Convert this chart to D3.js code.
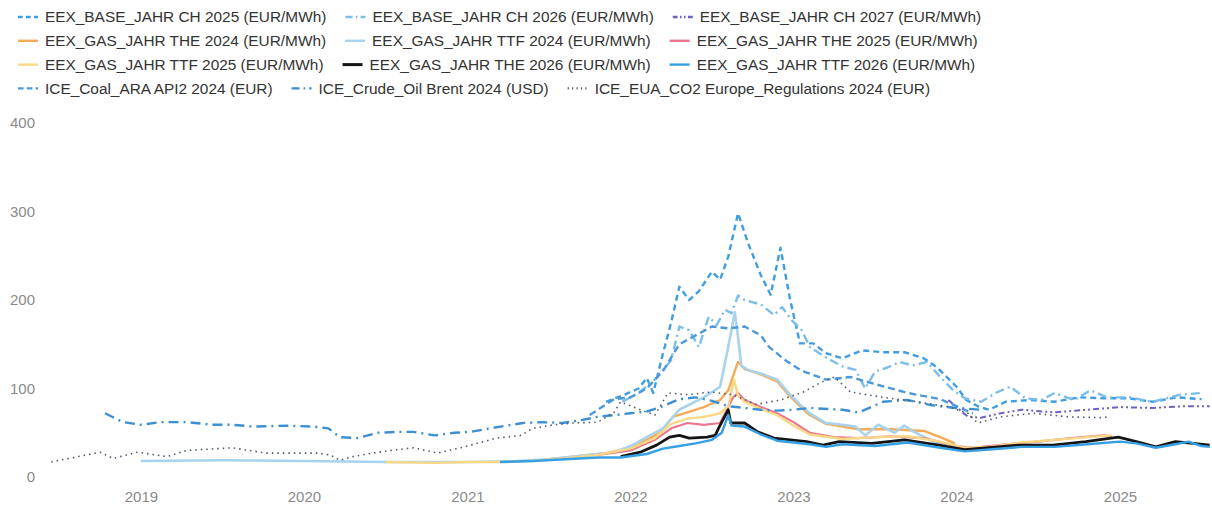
<!DOCTYPE html>
<html lang="en">
<head>
  <meta charset="UTF-8">
  <title>Energy futures</title>
  <script src="https://cdnjs.cloudflare.com/ajax/libs/d3/7.8.5/d3.min.js"></script>
  <style>
    body { margin: 0; background: #fff; }
    svg text { font-family: "Liberation Sans", Arial, sans-serif; }
    .tick text { fill: #8a8a8a; font-size: 15px; }
    .legend text { fill: #333; font-size: 15.4px; }
  </style>
</head>
<body>
  <div id="chart"></div>

  <script>
    // values: [decimal year, value]
    const ch2025 = [[2021.85,85],[2021.95,92],[2022.05,100],[2022.1,112],[2022.14,95],[2022.2,140],[2022.25,175],[2022.3,215],
      [2022.36,200],[2022.42,210],[2022.5,232],[2022.55,223],[2022.6,249],[2022.66,298],[2022.72,265],[2022.8,228],[2022.86,206],
      [2022.92,259],[2022.98,200],[2023.04,151],[2023.12,151],[2023.2,140],[2023.3,134],[2023.42,143],[2023.55,141],[2023.68,141],
      [2023.8,134],[2023.88,124],[2023.94,113],[2024.0,102],[2024.06,87],[2024.14,79],[2024.2,76],[2024.3,85],[2024.45,87],
      [2024.6,85],[2024.75,90],[2024.9,89],[2025.05,89],[2025.2,85],[2025.35,90],[2025.5,88]];
    const ch2026 = [[2021.95,85],[2022.05,95],[2022.15,110],[2022.25,132],[2022.3,170],[2022.36,166],[2022.42,147],[2022.48,181],
      [2022.53,172],[2022.58,189],[2022.62,185],[2022.66,205],[2022.7,200],[2022.8,195],[2022.88,183],[2022.93,192],[2022.99,177],
      [2023.05,166],[2023.1,147],[2023.2,135],[2023.3,125],[2023.38,121],[2023.44,100],[2023.5,119],[2023.58,124],[2023.65,130],
      [2023.73,126],[2023.82,130],[2023.9,113],[2023.98,98],[2024.05,89],[2024.15,85],[2024.25,96],[2024.33,102],[2024.42,89],
      [2024.52,87],[2024.6,95],[2024.72,87],[2024.82,98],[2024.92,90],[2025.06,90],[2025.2,85],[2025.37,93],[2025.5,95]];
    const ch2027 = [[2023.95,87],[2024.07,68],[2024.15,67],[2024.27,72],[2024.4,76],[2024.6,73],[2024.8,76],[2025.0,79],
      [2025.2,78],[2025.4,80],[2025.55,80]];
    const the2024 = [[2021.5,20],[2021.7,24],[2021.85,27],[2022.0,33],[2022.1,42],[2022.18,50],[2022.26,68],[2022.35,73],
      [2022.45,79],[2022.55,87],[2022.6,98],[2022.635,117],[2022.66,130],[2022.7,122],[2022.8,116],[2022.9,108],[2022.97,93],
      [2023.05,78],[2023.1,70],[2023.2,60],[2023.4,54],[2023.6,54],[2023.8,52],[2023.9,45],[2023.99,38]];
    const ttf2024 = [[2019.0,18],[2019.5,19],[2020.0,18],[2020.5,17],[2021.0,17],[2021.3,18],[2021.5,20],[2021.7,24],
      [2021.9,28],[2022.0,35],[2022.1,45],[2022.2,55],[2022.3,76],[2022.45,90],[2022.55,102],[2022.6,147],[2022.64,186],
      [2022.66,158],[2022.68,126],[2022.72,121],[2022.8,117],[2022.9,110],[2022.97,95],[2023.05,80],[2023.1,72],[2023.2,61],
      [2023.3,59],[2023.38,57],[2023.44,47],[2023.52,59],[2023.62,50],[2023.68,58],[2023.74,51],[2023.88,38],[2023.99,33]];
    const the2025 = [[2021.8,25],[2022.0,30],[2022.15,42],[2022.25,55],[2022.35,61],[2022.45,59],[2022.55,61],[2022.63,90],
      [2022.66,95],[2022.7,87],[2022.8,79],[2022.9,72],[2023.0,62],[2023.1,50],[2023.25,45],[2023.4,44],[2023.6,46],[2023.8,44],
      [2024.0,35],[2024.1,33],[2024.3,37],[2024.5,40],[2024.7,44],[2024.9,47],[2024.95,46]];
    const ttf2025 = [[2020.5,17],[2020.8,16],[2021.0,17],[2021.2,17],[2021.4,18],[2021.6,21],[2021.8,25],[2022.0,32],
      [2022.15,44],[2022.25,60],[2022.35,66],[2022.45,68],[2022.55,72],[2022.6,80],[2022.635,110],[2022.66,92],[2022.7,85],
      [2022.8,77],[2022.9,70],[2023.0,58],[2023.1,48],[2023.3,43],[2023.5,45],[2023.7,46],[2023.9,40],[2024.05,33],[2024.2,34],
      [2024.4,39],[2024.6,42],[2024.8,45],[2024.95,47]];
    const the2026 = [[2021.94,23],[2022.06,28],[2022.16,36],[2022.24,45],[2022.3,47],[2022.36,44],[2022.47,45],[2022.52,47],
      [2022.54,55],[2022.6,76],[2022.615,61],[2022.7,61],[2022.78,51],[2022.88,44],[2022.98,42],[2023.08,40],[2023.18,36],
      [2023.28,40],[2023.48,38],[2023.68,42],[2023.89,36],[2024.05,31],[2024.18,33],[2024.38,36],[2024.59,36],[2024.79,40],
      [2024.99,45],[2025.1,40],[2025.22,34],[2025.34,40],[2025.45,38],[2025.55,36]];
    const ttf2026 = [[2021.2,17],[2021.4,18],[2021.6,20],[2021.8,22],[2021.94,22],[2022.1,26],[2022.2,32],[2022.3,35],
      [2022.4,38],[2022.5,42],[2022.56,50],[2022.6,70],[2022.62,58],[2022.7,57],[2022.8,48],[2022.9,41],[2023.0,39],[2023.1,37],
      [2023.2,34],[2023.3,37],[2023.5,35],[2023.7,39],[2023.9,33],[2024.05,29],[2024.2,31],[2024.4,34],[2024.6,34],[2024.8,37],
      [2025.0,40],[2025.1,38],[2025.22,33],[2025.34,37],[2025.42,40],[2025.5,35],[2025.55,34]];
    const coal = [[2021.75,70],[2021.9,88],[2022.0,90],[2022.1,100],[2022.2,120],[2022.3,150],[2022.4,160],[2022.5,170],
      [2022.6,168],[2022.7,170],[2022.8,160],[2022.85,147],[2022.95,132],[2023.05,120],[2023.2,110],[2023.35,113],[2023.5,105],
      [2023.7,95],[2023.9,88],[2024.0,80],[2024.1,72]];
    const brent = [[2018.78,72],[2018.89,62],[2019.0,59],[2019.12,62],[2019.28,62],[2019.44,59],[2019.56,59],[2019.69,57],
      [2019.9,58],[2020.06,57],[2020.15,55],[2020.22,45],[2020.33,44],[2020.45,50],[2020.57,51],[2020.67,51],[2020.8,47],
      [2020.92,50],[2021.02,51],[2021.14,55],[2021.34,61],[2021.46,62],[2021.58,61],[2021.69,64],[2021.8,68],[2021.9,70],
      [2022.0,72],[2022.1,74],[2022.2,80],[2022.3,88],[2022.4,90],[2022.5,86],[2022.6,80],[2022.7,78],[2022.8,76],[2022.9,75],
      [2023.0,76],[2023.1,78],[2023.3,76],[2023.4,73],[2023.55,85],[2023.7,87],[2023.85,81],[2024.0,78],[2024.15,76]];
    const co2 = [[2018.45,17],[2018.75,28],[2018.83,21],[2018.98,28],[2019.16,23],[2019.28,30],[2019.56,33],[2019.77,27],
      [2020.08,27],[2020.16,25],[2020.22,19],[2020.3,23],[2020.42,27],[2020.53,30],[2020.67,33],[2020.82,27],[2020.98,34],
      [2021.18,44],[2021.33,47],[2021.4,55],[2021.53,59],[2021.65,61],[2021.8,62],[2021.9,73],[2021.94,85],[2022.06,76],
      [2022.15,70],[2022.23,95],[2022.35,93],[2022.49,96],[2022.63,93],[2022.77,82],[2022.92,87],[2023.06,96],[2023.17,107],
      [2023.25,113],[2023.35,96],[2023.55,90],[2023.76,85],[2023.96,79],[2024.07,72],[2024.13,61],[2024.27,68],[2024.47,72],
      [2024.68,68],[2024.88,67],[2024.94,68]];

    const seriesNames = [
      "EEX_BASE_JAHR CH 2025 (EUR/MWh)", "EEX_BASE_JAHR CH 2026 (EUR/MWh)", "EEX_BASE_JAHR CH 2027 (EUR/MWh)",
      "EEX_GAS_JAHR THE 2024 (EUR/MWh)", "EEX_GAS_JAHR TTF 2024 (EUR/MWh)", "EEX_GAS_JAHR THE 2025 (EUR/MWh)",
      "EEX_GAS_JAHR TTF 2025 (EUR/MWh)", "EEX_GAS_JAHR THE 2026 (EUR/MWh)", "EEX_GAS_JAHR TTF 2026 (EUR/MWh)",
      "ICE_Coal_ARA API2 2024 (EUR)", "ICE_Crude_Oil Brent 2024 (USD)", "ICE_EUA_CO2 Europe_Regulations 2024 (EUR)"
    ];
    const seriesData = [ch2025, ch2026, ch2027, the2024, ttf2024, the2025, ttf2025, the2026, ttf2026, coal, brent, co2];
    const yTicks = [0, 100, 200, 300, 400];

    // line styles per series
    const styles = [
      {color: "#3f9de2", dash: "6,4", w: 2.4},
      {color: "#7dbde9", dash: "9,4,2,4", w: 2.4},
      {color: "#6b62c4", dash: "6,3,2,3,2,3", w: 2},
      {color: "#f5ab55", dash: null, w: 2.4},
      {color: "#a8d3ef", dash: null, w: 2.6},
      {color: "#e97790", dash: null, w: 2.2},
      {color: "#f8d785", dash: null, w: 2.4},
      {color: "#151515", dash: null, w: 2.8},
      {color: "#36a0e4", dash: null, w: 2.4},
      {color: "#4d98d8", dash: "7,4", w: 2.4},
      {color: "#3d8fd4", dash: "10,5,2,5", w: 2.4},
      {color: "#4b5a72", dash: "1.5,4", w: 1.6}
    ];

    const W = 1212, H = 508;
    const svg = d3.select("#chart").append("svg")
      .attr("width", W).attr("height", H);

    function yearToDate(y) {
      const yr = Math.floor(y);
      const a = Date.UTC(yr, 0, 1), b = Date.UTC(yr + 1, 0, 1);
      return new Date(a + (y - yr) * (b - a));
    }

    const x = d3.scaleUtc()
      .domain([yearToDate(2018.418), yearToDate(2025.552)])
      .range([46, 1210]);
    const y = d3.scaleLinear().domain([0, 400]).range([477, 123]);

    // y axis labels
    const yAxis = svg.append("g")
      .attr("transform", "translate(35,0)")
      .call(d3.axisLeft(y).tickValues(yTicks).tickSize(0).tickPadding(0));
    yAxis.select(".domain").remove();

    // x axis labels
    const xAxis = svg.append("g")
      .attr("transform", "translate(0,487)")
      .call(d3.axisBottom(x).ticks(d3.utcYear.every(1)).tickFormat(d3.utcFormat("%Y")).tickSize(0).tickPadding(4));
    xAxis.select(".domain").remove();

    const line = d3.line()
      .x(d => x(yearToDate(d[0])))
      .y(d => y(d[1]));

    svg.append("g").selectAll("path")
      .data(seriesData)
      .join("path")
      .attr("fill", "none")
      .attr("stroke", (d, i) => styles[i].color)
      .attr("stroke-width", (d, i) => styles[i].w)
      .attr("stroke-dasharray", (d, i) => styles[i].dash)
      .attr("stroke-linejoin", "round")
      .attr("d", line);

    // legend, flowing rows
    const legend = svg.append("g").attr("class", "legend");
    const rows = [[0, 1, 2], [3, 4, 5], [6, 7, 8], [9, 10, 11]];
    rows.forEach((row, r) => {
      let cx = 18;
      const cy = 17 + r * 23.8;
      row.forEach(i => {
        const item = legend.append("g").attr("transform", `translate(${cx},${cy})`);
        item.append("line")
          .attr("x1", 0).attr("x2", 20).attr("y1", 0).attr("y2", 0)
          .attr("stroke", styles[i].color)
          .attr("stroke-width", i === 7 ? 3 : 2.4)
          .attr("stroke-dasharray", styles[i].dash ? styles[i].dash.split(",").map(v => +v * 0.8).join(",") : null);
        const t = item.append("text")
          .attr("x", 27).attr("y", 0).attr("dy", "0.35em")
          .text(seriesNames[i]);
        cx += 27 + t.node().getComputedTextLength() + 19;
      });
    });
  </script>
</body>
</html>
